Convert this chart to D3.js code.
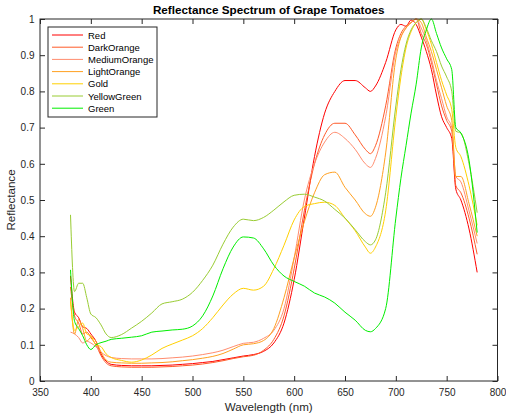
<!DOCTYPE html>
<html>
<head>
<meta charset="utf-8">
<script src="https://cdn.jsdelivr.net/npm/d3@7"></script>
<style>
  body { margin: 0; background: #fff; }
  text { font-family: "Liberation Sans", Arial, sans-serif; }
</style>
</head>
<body>
<script>
// wavelengths (nm) shared by every series
var wavelength = [380, 384, 388, 392, 396, 400, 405, 410, 415, 420,
  430, 440, 450, 460, 470, 480, 490, 500, 510, 520, 530, 540, 550, 560, 570, 580,
  590, 600, 610, 620, 630, 640, 650, 660, 670, 675, 680, 690, 700,
  705, 710, 715, 720, 725, 730, 735, 740, 745, 750, 755, 759, 764, 772, 780];

var red = [0.29, 0.19, 0.175, 0.15, 0.145, 0.13, 0.11, 0.075, 0.055, 0.046,
  0.043, 0.042, 0.042, 0.042, 0.043, 0.044, 0.046, 0.048, 0.051, 0.054, 0.059, 0.064, 0.069, 0.073, 0.082, 0.105,
  0.16, 0.28, 0.45, 0.62, 0.74, 0.80, 0.83, 0.83, 0.81, 0.80, 0.815, 0.88, 0.97,
  0.985, 0.98, 0.997, 0.985, 0.95, 0.91, 0.86, 0.79, 0.73, 0.70, 0.67, 0.53, 0.50, 0.42, 0.30];

var darkOrange = [0.26, 0.18, 0.16, 0.13, 0.135, 0.12, 0.10, 0.07, 0.05, 0.042,
  0.039, 0.038, 0.038, 0.038, 0.039, 0.040, 0.042, 0.044, 0.047, 0.051, 0.056, 0.062, 0.067, 0.071, 0.085, 0.115,
  0.18, 0.31, 0.47, 0.60, 0.68, 0.712, 0.712, 0.68, 0.64, 0.628, 0.65, 0.76, 0.92,
  0.96, 0.98, 0.99, 1.0, 0.96, 0.93, 0.88, 0.82, 0.76, 0.72, 0.69, 0.54, 0.52, 0.45, 0.35];

var mediumOrange = [0.135, 0.13, 0.12, 0.105, 0.11, 0.105, 0.095, 0.08, 0.07, 0.065,
  0.062, 0.061, 0.061, 0.061, 0.062, 0.064, 0.066, 0.069, 0.073, 0.078, 0.085, 0.095, 0.104, 0.107, 0.118, 0.14,
  0.20, 0.34, 0.50, 0.60, 0.66, 0.687, 0.67, 0.64, 0.60, 0.59, 0.615, 0.73, 0.91,
  0.95, 0.975, 0.99, 1.0, 0.975, 0.94, 0.89, 0.83, 0.78, 0.73, 0.70, 0.565, 0.55, 0.47, 0.38];

var lightOrange = [0.23, 0.13, 0.17, 0.145, 0.11, 0.12, 0.11, 0.08, 0.058, 0.052,
  0.050, 0.049, 0.049, 0.050, 0.051, 0.053, 0.056, 0.059, 0.063, 0.068, 0.076, 0.088, 0.10, 0.103, 0.112, 0.145,
  0.23, 0.34, 0.44, 0.52, 0.57, 0.577, 0.535, 0.50, 0.462, 0.455, 0.48, 0.63, 0.89,
  0.95, 0.975, 0.99, 1.0, 0.99, 0.95, 0.91, 0.86, 0.81, 0.76, 0.72, 0.565, 0.565, 0.49, 0.40];

var gold = [0.22, 0.14, 0.15, 0.16, 0.13, 0.125, 0.10, 0.095, 0.075, 0.065,
  0.057, 0.052, 0.058, 0.072, 0.09, 0.102, 0.113, 0.125, 0.145, 0.175, 0.21, 0.24, 0.256, 0.251, 0.262, 0.31,
  0.375, 0.445, 0.482, 0.49, 0.494, 0.485, 0.45, 0.415, 0.37, 0.353, 0.37, 0.47, 0.73,
  0.84, 0.92, 0.965, 0.99, 1.0, 0.97, 0.93, 0.88, 0.83, 0.79, 0.75, 0.645, 0.62, 0.54, 0.43];

var yellowGreen = [0.459, 0.247, 0.27, 0.27, 0.23, 0.185, 0.175, 0.155, 0.13, 0.12,
  0.128, 0.146, 0.165, 0.188, 0.213, 0.219, 0.226, 0.245, 0.278, 0.32, 0.378, 0.425, 0.447, 0.443, 0.452, 0.472,
  0.495, 0.513, 0.516, 0.508, 0.497, 0.474, 0.45, 0.418, 0.385, 0.376, 0.39, 0.52, 0.76,
  0.86, 0.93, 0.97, 0.99, 1.0, 0.975, 0.94, 0.91, 0.87, 0.84, 0.80, 0.69, 0.685, 0.60, 0.465];

var green = [0.307, 0.165, 0.145, 0.125, 0.10, 0.087, 0.10, 0.106, 0.11, 0.115,
  0.118, 0.121, 0.125, 0.135, 0.138, 0.141, 0.143, 0.152, 0.18, 0.235, 0.31, 0.37, 0.398, 0.395, 0.365, 0.32,
  0.29, 0.275, 0.262, 0.243, 0.232, 0.215, 0.19, 0.168, 0.14, 0.136, 0.145, 0.20, 0.45,
  0.56, 0.65, 0.74, 0.82, 0.92, 0.97, 1.0, 0.96, 0.92, 0.89, 0.86, 0.70, 0.685, 0.61, 0.41];

var names = ['Red', 'DarkOrange', 'MediumOrange', 'LightOrange', 'Gold', 'YellowGreen', 'Green'];
var colors = ['#ff0000', '#ff5a28', '#ff8c6e', '#ffa020', '#ffd000', '#99cc33', '#00ee00'];
var values = [red, darkOrange, mediumOrange, lightOrange, gold, yellowGreen, green];

var xTicks = [350, 400, 450, 500, 550, 600, 650, 700, 750, 800];
var yTicks = [0, 0.1, 0.2, 0.3, 0.4, 0.5, 0.6, 0.7, 0.8, 0.9, 1];

var width = 506;
var height = 417;
var margin = {top: 19, right: 8.5, bottom: 36, left: 40};
var plotW = width - margin.left - margin.right;
var plotH = height - margin.top - margin.bottom;

var svg = d3.select('body').append('svg')
  .attr('width', width)
  .attr('height', height)

var x = d3.scaleLinear().domain([350, 800]).range([0, plotW]);
var y = d3.scaleLinear().domain([0, 1]).range([plotH, 0]);

var g = svg.append('g')
  .attr('transform', 'translate(' + margin.left + ',' + margin.top + ')')

// series
var series = names.map(function(n, i) {
  return {name: n, color: colors[i], pts: wavelength.map(function(w, j) { return [w, values[i][j]]; })};
});

var line = d3.line()
  .x(function(d) { return x(d[0]); })
  .y(function(d) { return y(d[1]); })
  .curve(d3.curveMonotoneX)

g.selectAll('path.series')
  .data(series)
  .enter().append('path')
  .attr('class', 'series')
  .attr('d', function(d) { return line(d.pts); })
  .attr('fill', 'none')
  .attr('stroke', function(d) { return d.color; })
  .attr('stroke-width', 1)

// axes, ticks inward, box on all sides
var axisColor = '#262626';
function styleAxis(sel) {
  sel.select('.domain').remove();
  sel.selectAll('line').attr('stroke', axisColor);
  sel.selectAll('text').attr('fill', axisColor).style('font-size', '10px');
}

g.append('g')
  .attr('transform', 'translate(0,' + plotH + ')')
  .call(d3.axisBottom(x).tickValues(xTicks).tickSizeInner(-5).tickSizeOuter(0).tickPadding(8))
  .call(styleAxis)

g.append('g')
  .call(d3.axisLeft(y).tickValues(yTicks).tickFormat(d3.format('~g')).tickSizeInner(-5).tickSizeOuter(0).tickPadding(5.5))
  .call(styleAxis)

g.append('g')
  .call(d3.axisTop(x).tickValues(xTicks).tickFormat('').tickSizeInner(-5).tickSizeOuter(0))
  .call(styleAxis)

g.append('g')
  .attr('transform', 'translate(' + plotW + ',0)')
  .call(d3.axisRight(y).tickValues(yTicks).tickFormat('').tickSizeInner(-5).tickSizeOuter(0))
  .call(styleAxis)

g.append('rect')
  .attr('width', plotW)
  .attr('height', plotH)
  .attr('fill', 'none')
  .attr('stroke', axisColor)
  .attr('stroke-width', 1)

// labels
svg.append('text')
  .attr('x', margin.left + plotW / 2)
  .attr('y', 14)
  .attr('text-anchor', 'middle')
  .style('font-size', '11.7px')
  .style('font-weight', 'bold')
  .attr('fill', '#000')
  .text('Reflectance Spectrum of Grape Tomatoes')

svg.append('text')
  .attr('x', margin.left + plotW / 2)
  .attr('y', 411)
  .attr('text-anchor', 'middle')
  .style('font-size', '11.6px')
  .attr('fill', axisColor)
  .text('Wavelength (nm)')

svg.append('text')
  .attr('transform', 'translate(15,' + (margin.top + plotH / 2) + ') rotate(-90)')
  .attr('text-anchor', 'middle')
  .style('font-size', '11.6px')
  .attr('fill', axisColor)
  .text('Reflectance')

// legend
var legend = svg.append('g').attr('transform', 'translate(48,27)')
legend.append('rect')
  .attr('width', 109)
  .attr('height', 90)
  .attr('fill', '#fff')
  .attr('stroke', axisColor)
  .attr('stroke-width', 1)

var items = legend.selectAll('g.item')
  .data(series)
  .enter().append('g')
  .attr('class', 'item')
  .attr('transform', function(d, i) { return 'translate(0,' + (8 + i * 12.2) + ')'; })

items.append('line')
  .attr('x1', 4).attr('x2', 35)
  .attr('stroke', function(d) { return d.color; })
  .attr('stroke-width', 1)

items.append('text')
  .attr('x', 40)
  .attr('y', 3.5)
  .style('font-size', '9.5px')
  .attr('fill', '#000')
  .text(function(d) { return d.name; })
</script>
</body>
</html>
